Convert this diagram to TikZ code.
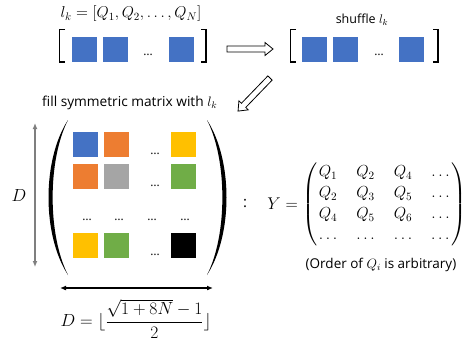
\RequirePackage{fix-cm}
\documentclass[tikz,border=0pt]{standalone}
\usepackage[no-math]{fontspec}
\usepackage{amsmath}
\usetikzlibrary{arrows.meta}
\newfontfamily\lblfont{Open Sans}

\definecolor{qblue}{HTML}{4472C4}
\definecolor{qorange}{HTML}{ED7D31}
\definecolor{qgray}{HTML}{A5A5A5}
\definecolor{qgold}{HTML}{FFC000}
\definecolor{qgreen}{HTML}{70AD47}
\definecolor{axisgray}{HTML}{7F7F7F}

\tikzset{
  sq/.style={minimum size=25pt, inner sep=0pt, outer sep=0pt},
  lbl/.style={font=\lblfont\fontsize{12.5}{15}\selectfont, inner sep=0pt},
  dotsnode/.style={font=\lblfont\fontsize{12}{14}\selectfont, inner sep=0pt, anchor=base},
  mathlbl/.style={inner sep=0pt, font=\fontsize{17.5}{21}\selectfont},
  brk/.style={line width=1.4pt},
  hollow/.style={draw=black, line width=0.8pt, fill=white, line join=miter},
  hollowarrow/.pic={\path[hollow] (0,-3) -- (38,-3) -- (38,-6.5) -- (46,0) -- (38,6.5) -- (38,3) -- (0,3) -- cycle;},
  dimarrow/.style={line width=1.2pt, {Latex[length=6pt,width=5pt]}-{Latex[length=6pt,width=5pt]}},
}

\begin{document}
\begin{tikzpicture}[x=1pt,y=-1pt]
\useasboundingbox (0,0) rectangle (466,341);

% ---- the list l_k ----
\node[inner sep=0pt, font=\fontsize{15.7}{18}\selectfont] (title) at (131,14)
  {$l_k=[Q_1,Q_2,\ldots,Q_N]$};
\draw[brk] (65,29.5) -- (59.5,29.5) -- (59.5,62) -- (65,62);
\node[sq, fill=qblue] (a1) at (84,49) {};
\node[sq, fill=qblue] (a2) at (115,49) {};
\node[dotsnode] (adots) at (148,55) {…};
\node[sq, fill=qblue] (a3) at (181,49) {};
\draw[brk] (201,29.5) -- (206,29.5) -- (206,62) -- (201,62);

% ---- the shuffled list ----
\node[lbl] (shuf) at (362,20) {shuffle $l_k$};
\draw[brk] (296,29.5) -- (290.5,29.5) -- (290.5,62) -- (296,62);
\node[sq, fill=qblue] (b1) at (314.5,49) {};
\node[sq, fill=qblue] (b2) at (345,49) {};
\node[dotsnode] (bdots) at (379,55) {…};
\node[sq, fill=qblue] (b3) at (411.5,49) {};
\draw[brk] (433,29.5) -- (438,29.5) -- (438,62) -- (433,62);

% ---- hollow arrows ----
\pic at (227,49) {hollowarrow};
\pic[rotate=226] at (270,78) {hollowarrow};

\node[lbl, font=\lblfont\fontsize{13.7}{16}\selectfont, anchor=base west] (fill) at (42,106)
  {fill symmetric matrix with $l_k$};

% ---- the D x D matrix ----
\fill (68,120) .. controls (42,160) and (42,235) .. (68,275)
      .. controls (47.5,235) and (47.5,160) .. cycle;
\fill (207,120) .. controls (233,160) and (233,235) .. (207,275)
      .. controls (227.5,235) and (227.5,160) .. cycle;

\node[sq, fill=qblue]   (m11) at (85.5,144.5) {};
\node[sq, fill=qorange] (m12) at (116.5,144.5) {};
\node[dotsnode]         (m13) at (155,154) {…};
\node[sq, fill=qgold]   (m14) at (183.5,144.5) {};

\node[sq, fill=qorange] (m21) at (85.5,176.5) {};
\node[sq, fill=qgray]   (m22) at (116.5,176.5) {};
\node[dotsnode]         (m23) at (155,186) {…};
\node[sq, fill=qgreen]  (m24) at (183.5,176.5) {};

\node[dotsnode] (m31) at (87,220) {…};
\node[dotsnode] (m32) at (119,220.5) {…};
\node[dotsnode] (m33) at (152,220) {…};
\node[dotsnode] (m34) at (185,220.5) {…};

\node[sq, fill=qgold]   (m41) at (85.5,245.5) {};
\node[sq, fill=qgreen]  (m42) at (116.5,245.5) {};
\node[dotsnode]         (m43) at (155,255) {…};
\node[sq, fill=black]   (m44) at (183.5,245.5) {};

% ---- dimensions ----
\coordinate (vtop) at (35,123);
\coordinate (vbot) at (35,267);
\draw[dimarrow, draw=axisgray] (vtop) -- (vbot);
\node[mathlbl] (dlbl) at (19,196) {$D$};

\coordinate (hleft) at (60,288);
\coordinate (hright) at (213,288);
\draw[dimarrow] (hleft) -- (hright);

\node[mathlbl] (dform) at (136,319)
  {$D=\lfloor\dfrac{\sqrt{1+8N}-1}{2}\rfloor$};

% ---- closed form of Y ----
\node[lbl, font=\lblfont\fontsize{15}{18}\selectfont] (colon) at (245,203) {:};
\node[mathlbl, font=\fontsize{17}{21}\selectfont, anchor=east] (yeq) at (298,203.5) {$Y=$};
\node[mathlbl, font=\fontsize{16}{21}\selectfont, anchor=west] (ymat) at (302,204)
  {\setlength\arraycolsep{9.5pt}\renewcommand\arraystretch{1}%
   $\left(\begin{array}{@{\hspace{1.5pt}}cccc@{\hspace{1.5pt}}}
     Q_1 & Q_2 & Q_4 & \ldots\\
     Q_2 & Q_3 & Q_5 & \ldots\\
     Q_4 & Q_5 & Q_6 & \ldots\\
     \ldots & \ldots & \ldots & \ldots
   \end{array}\right)$};
\node[lbl, font=\lblfont\fontsize{13.5}{16}\selectfont] (order) at (381,265)
  {(Order of $Q_i$ is arbitrary)};
\end{tikzpicture}
\end{document}
